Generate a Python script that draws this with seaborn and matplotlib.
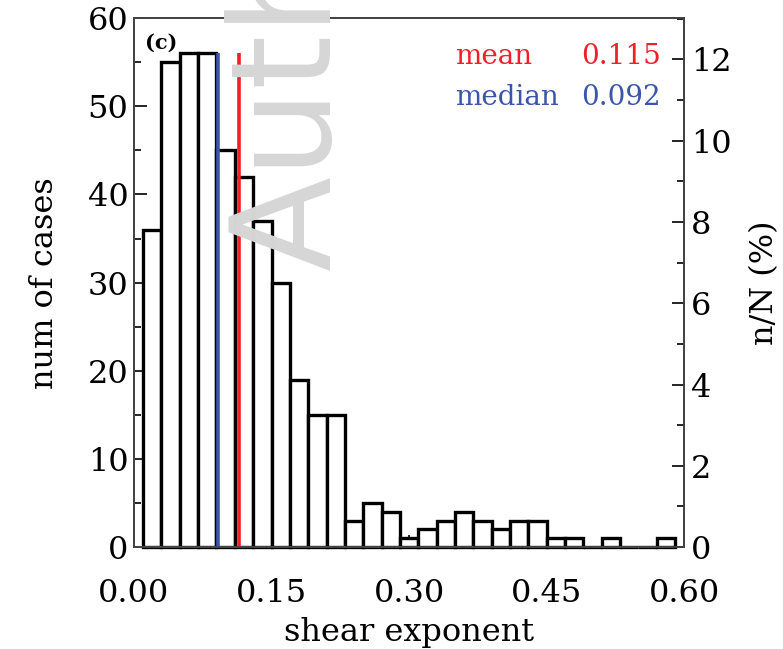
import matplotlib
matplotlib.use('Agg')
import matplotlib.pyplot as plt
import seaborn as sns
from matplotlib.ticker import MultipleLocator

# histogram bin centres (bin width 0.02) and number of cases per bin
shear_centers = [0.02, 0.04, 0.06, 0.08, 0.10, 0.12, 0.14, 0.16, 0.18, 0.20,
                 0.22, 0.24, 0.26, 0.28, 0.30, 0.32, 0.34, 0.36, 0.38, 0.40,
                 0.42, 0.44, 0.46, 0.48, 0.50, 0.52, 0.54, 0.56, 0.58]
case_counts = [36, 55, 56, 56, 45, 42, 37, 30, 19, 15,
               15, 3, 5, 4, 1, 2, 3, 4, 3, 2,
               3, 3, 1, 1, 0, 1, 0, 0, 1]
mean_val = 0.115
median_val = 0.092
n_total = 461  # total number of cases (sets the n/N axis)

sns.set_style('ticks')
plt.rcParams['font.family'] = ['DejaVu Serif']
plt.rcParams['xtick.direction'] = 'in'
plt.rcParams['ytick.direction'] = 'in'
for k in ['text.color', 'axes.labelcolor', 'xtick.color', 'ytick.color']:
    plt.rcParams[k] = 'black'

fig = plt.figure(figsize=(7.83, 6.49), dpi=100)

# watermark from the source page
fig.text(330 / 783, 1 - 270 / 649, 'Author', rotation=90,
         rotation_mode='anchor', ha='left', va='baseline',
         fontsize=100, family='DejaVu Sans', color='#d6d6d6', zorder=0)

ax = fig.add_axes([0.171, 0.157, 0.703, 0.815])
ax.patch.set_alpha(0)
sns.histplot(x=shear_centers, weights=case_counts, binwidth=0.02, binrange=(0.01, 0.59),
             color='white', edgecolor='black', linewidth=2.4, alpha=1, ax=ax)
for p in ax.patches:
    p.set_clip_on(False)

top = max(case_counts)
ax.vlines(median_val, 0, top, color='#3b55ad', lw=2.6, zorder=5)
ax.vlines(mean_val, 0, top, color='#f0202a', lw=2.6, zorder=5)

ax.set_xlim(0, 0.60)
ax.set_ylim(0, 60)
ax.xaxis.set_major_locator(MultipleLocator(0.15))
ax.yaxis.set_major_locator(MultipleLocator(10))
ax.yaxis.set_minor_locator(MultipleLocator(5))
ax.set_xticklabels([f'{v:.2f}' for v in ax.get_xticks()])
ax.tick_params(axis='x', which='major', length=9, width=1.2, pad=22, labelsize=23)
ax.tick_params(axis='y', which='major', length=9, width=1.2, pad=4, labelsize=23, right=False)
ax.tick_params(axis='y', which='minor', length=5, width=1.2, right=False)
ax.set_xlabel('shear exponent', fontsize=23, labelpad=6)
ax.set_ylabel('num of cases', fontsize=23, labelpad=20)
for s in ax.spines.values():
    s.set_linewidth(1.3)
    s.set_color('#444444')

ax.text(0.012, 57.2, '(c)', fontsize=15, fontweight='bold', ha='left', va='center')
ax.text(0.350, 55.6, 'mean', color='#f0202a', fontsize=20, ha='left', va='center')
ax.text(0.574, 55.6, f'{mean_val:.3f}', color='#f0202a', fontsize=20, ha='right', va='center')
ax.text(0.350, 51.0, 'median', color='#3b55ad', fontsize=20, ha='left', va='center')
ax.text(0.574, 51.0, f'{median_val:.3f}', color='#3b55ad', fontsize=20, ha='right', va='center')

ax2 = ax.twinx()
ax2.set_ylim(0, 60 / n_total * 100)
ax2.yaxis.set_major_locator(MultipleLocator(2))
ax2.yaxis.set_minor_locator(MultipleLocator(1))
ax2.tick_params(axis='y', which='major', length=9, width=1.2, pad=5, labelsize=23)
ax2.tick_params(axis='y', which='minor', length=5, width=1.2)
ax2.set_ylabel('n/N (%)', fontsize=23, labelpad=12)
for s in ax2.spines.values():
    s.set_linewidth(1.3)
    s.set_color('#444444')

fig.savefig('out.png', dpi=100)
